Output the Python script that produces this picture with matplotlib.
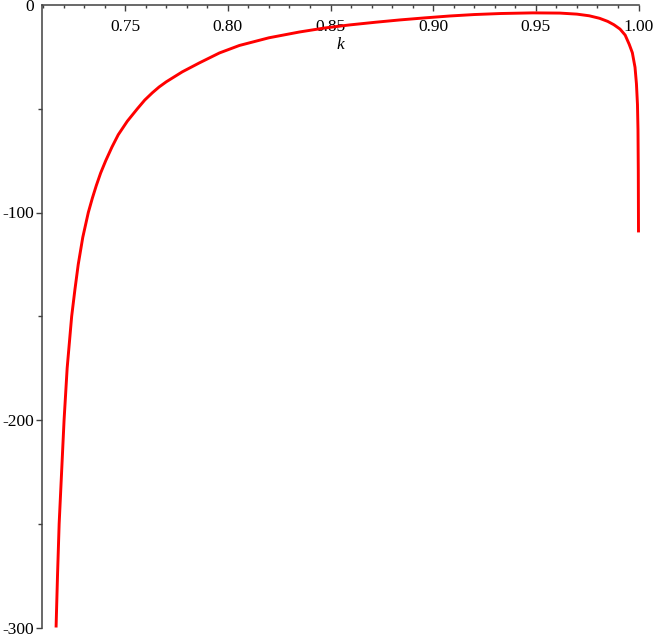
import matplotlib.pyplot as plt
from matplotlib.ticker import MultipleLocator, FixedLocator

# values
k = [0.7163, 0.7170, 0.7178, 0.7190, 0.7202, 0.7217, 0.7239, 0.7255, 0.7271,
     0.7293, 0.7320, 0.7340, 0.7359, 0.7380, 0.7405, 0.7435, 0.7466, 0.7510,
     0.7559, 0.7595, 0.7632, 0.7665, 0.7700, 0.7778, 0.7861, 0.7959, 0.8056,
     0.8200, 0.8349, 0.8470, 0.8593, 0.8720, 0.8837, 0.8960, 0.9080, 0.9200,
     0.9330, 0.9485, 0.9617, 0.9700, 0.9760, 0.9810, 0.9850, 0.9880, 0.9910,
     0.9935, 0.9955, 0.9970, 0.9983, 0.9990, 0.9995, 0.99975, 0.9999, 1.0000]
val = [-300.0, -275.0, -250.0, -225.0, -200.0, -175.0, -150.0, -137.0, -125.0,
       -112.0, -100.0, -93.0, -87.0, -81.0, -75.0, -68.5, -62.5, -56.0,
       -50.0, -45.8, -42.3, -39.5, -37.0, -32.2, -27.9, -23.1, -19.5,
       -15.8, -13.0, -11.1, -9.6, -8.3, -7.2, -6.2, -5.3, -4.6,
       -4.1, -3.8, -3.9, -4.4, -5.2, -6.4, -7.9, -9.5, -11.6,
       -14.5, -19.0, -23.0, -30.0, -38.0, -48.0, -60.0, -80.0, -109.6]

xticks = [0.75, 0.80, 0.85, 0.90, 0.95, 1.00]
yticks = [-300, -200, -100, 0]
ytick_labels = ["-300", "-200", "-100", "0"]

plt.rcParams['font.family'] = ['Liberation Serif', 'DejaVu Serif']
axis_col = '#404040'

fig = plt.figure(figsize=(6.54, 6.37), dpi=100)
ax = fig.add_axes([41.7 / 654, 9.5 / 637, (638.5 - 41.7) / 654, 622.5 / 637])

ax.plot(k, val, color='#ff0000', lw=2.1, solid_joinstyle='round',
        solid_capstyle='butt', clip_on=False)

ax.set_xlim(0.7093, 1.0)
ax.set_ylim(-300, 0)

for s in ['right', 'bottom']:
    ax.spines[s].set_visible(False)
for s in ['left', 'top']:
    ax.spines[s].set_color(axis_col)
    ax.spines[s].set_linewidth(1.1)

ax.set_xticks(xticks)
ax.set_xticklabels([f"{t:.2f}" for t in xticks])
ax.xaxis.set_minor_locator(MultipleLocator(0.01))
ax.tick_params(axis='x', which='both', bottom=False, labelbottom=False,
               top=True, labeltop=True, direction='in', color=axis_col,
               labelsize=12.5, pad=-21.5)
ax.tick_params(axis='x', which='major', length=4, width=1.0)
ax.tick_params(axis='x', which='minor', length=2.5, width=1.0)

ax.set_yticks(yticks)
ax.set_yticklabels(ytick_labels)
ax.yaxis.set_minor_locator(FixedLocator([-250, -150, -50]))
ax.tick_params(axis='y', which='both', direction='out', color=axis_col,
               labelsize=12.5, pad=1)
ax.tick_params(axis='y', which='major', length=4.5, width=1.0)
ax.tick_params(axis='y', which='minor', length=3, width=1.0)
ax.yaxis.get_major_ticks()[-1].tick1line.set_visible(False)

ax.set_xlabel('k', fontsize=12.5, fontstyle='italic')
ax.xaxis.set_label_position('top')
ax.xaxis.set_label_coords(0.5, 1 - 40 / 622.5)
ax.xaxis.label.set_va('center')

fig.savefig('out.png', dpi=100)
